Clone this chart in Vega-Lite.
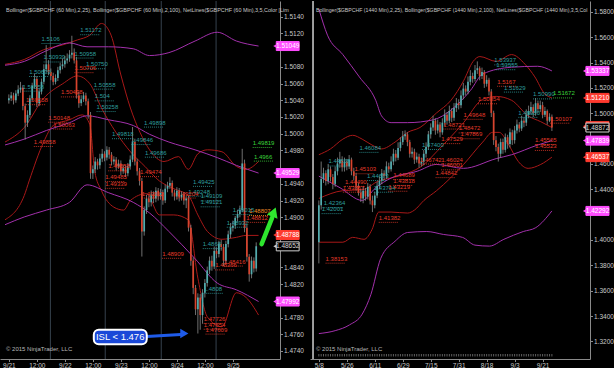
{
"$schema":"https://vega.github.io/schema/vega-lite/v6.json",
"background":"#000000",
"padding":0,
"spacing":30,
"bounds":"flush",
"config":{"view":{"stroke":null},"axis":{"labelFont":"Liberation Sans","labelFontSize":6.5,"labelColor":"#c8c8c8","domainColor":"#8a8a8a","tickColor":"#8a8a8a","tickSize":2.5,"grid":false,"labelPadding":1,"labelFlush":false}},
"datasets":{
"g1":[{"i":17.8},{"i":41.3},{"i":65.3},{"i":88.8}],
"tx1":[{"t":"Bollinger($GBPCHF (60 Min),2,25), Bollinger($GBPCHF (60 Min),2,100), NetLines($GBPCHF (60 Min),3,5,Color [Lim","w":"top"},{"t":"© 2015 NinjaTrader, LLC","w":"bot"}],
"tx2":[{"t":"Bollinger($GBPCHF (1440 Min),2,25), Bollinger($GBPCHF (1440 Min),2,100), NetLines($GBPCHF (1440 Min),3,5,Col","w":"top"},{"t":"© 2015 NinjaTrader, LLC","w":"bot"}],
"h1":[
{"i":0,"o":1.50400,"h":1.50470,"l":1.50360,"c":1.50423},
{"i":1,"o":1.50423,"h":1.50500,"l":1.50390,"c":1.50458},
{"i":2,"o":1.50458,"h":1.50490,"l":1.50350,"c":1.50400},
{"i":3,"o":1.50400,"h":1.50520,"l":1.50370,"c":1.50481},
{"i":4,"o":1.50481,"h":1.50580,"l":1.50450,"c":1.50528},
{"i":5,"o":1.50528,"h":1.50620,"l":1.50490,"c":1.50551},
{"i":6,"o":1.50551,"h":1.50580,"l":1.50280,"c":1.50330},
{"i":7,"o":1.50330,"h":1.50360,"l":1.49930,"c":1.50132},
{"i":8,"o":1.50132,"h":1.50280,"l":1.50080,"c":1.50225},
{"i":9,"o":1.50225,"h":1.50460,"l":1.50190,"c":1.50423},
{"i":10,"o":1.50423,"h":1.50610,"l":1.50390,"c":1.50574},
{"i":11,"o":1.50574,"h":1.50720,"l":1.50540,"c":1.50656},
{"i":12,"o":1.50656,"h":1.50690,"l":1.50320,"c":1.50365},
{"i":13,"o":1.50365,"h":1.50540,"l":1.50330,"c":1.50505},
{"i":14,"o":1.50505,"h":1.50660,"l":1.50470,"c":1.50621},
{"i":15,"o":1.50621,"h":1.50830,"l":1.50590,"c":1.50772},
{"i":16,"o":1.50772,"h":1.51060,"l":1.50740,"c":1.50830},
{"i":17,"o":1.50830,"h":1.50880,"l":1.50700,"c":1.50737},
{"i":18,"o":1.50737,"h":1.50780,"l":1.50640,"c":1.50691},
{"i":19,"o":1.50691,"h":1.50730,"l":1.50580,"c":1.50621},
{"i":20,"o":1.50621,"h":1.50710,"l":1.50590,"c":1.50667},
{"i":21,"o":1.50667,"h":1.50800,"l":1.50630,"c":1.50760},
{"i":22,"o":1.50760,"h":1.50850,"l":1.50720,"c":1.50807},
{"i":23,"o":1.50807,"h":1.50900,"l":1.50770,"c":1.50830},
{"i":24,"o":1.50830,"h":1.50930,"l":1.50790,"c":1.50877},
{"i":25,"o":1.50877,"h":1.50960,"l":1.50840,"c":1.50900},
{"i":26,"o":1.50900,"h":1.51000,"l":1.50860,"c":1.50946},
{"i":27,"o":1.50946,"h":1.51172,"l":1.50900,"c":1.50970},
{"i":28,"o":1.50970,"h":1.51020,"l":1.50840,"c":1.50877},
{"i":29,"o":1.50877,"h":1.50920,"l":1.50420,"c":1.50458},
{"i":30,"o":1.50458,"h":1.50500,"l":1.50310,"c":1.50365},
{"i":31,"o":1.50365,"h":1.50460,"l":1.50330,"c":1.50412},
{"i":32,"o":1.50412,"h":1.50500,"l":1.50380,"c":1.50458},
{"i":33,"o":1.50458,"h":1.50490,"l":1.50340,"c":1.50388},
{"i":34,"o":1.50388,"h":1.50420,"l":1.50180,"c":1.50225},
{"i":35,"o":1.50225,"h":1.50260,"l":1.49460,"c":1.49528},
{"i":36,"o":1.49528,"h":1.49620,"l":1.49458,"c":1.49574},
{"i":37,"o":1.49574,"h":1.49720,"l":1.49530,"c":1.49667},
{"i":38,"o":1.49667,"h":1.49700,"l":1.49570,"c":1.49621},
{"i":39,"o":1.49621,"h":1.49760,"l":1.49580,"c":1.49702},
{"i":40,"o":1.49702,"h":1.49818,"l":1.49660,"c":1.49760},
{"i":41,"o":1.49760,"h":1.49790,"l":1.49670,"c":1.49714},
{"i":42,"o":1.49714,"h":1.49850,"l":1.49680,"c":1.49807},
{"i":43,"o":1.49807,"h":1.49840,"l":1.49700,"c":1.49749},
{"i":44,"o":1.49749,"h":1.49780,"l":1.49620,"c":1.49667},
{"i":45,"o":1.49667,"h":1.49730,"l":1.49630,"c":1.49690},
{"i":46,"o":1.49690,"h":1.49720,"l":1.49558,"c":1.49609},
{"i":47,"o":1.49609,"h":1.49690,"l":1.49580,"c":1.49644},
{"i":48,"o":1.49644,"h":1.49680,"l":1.49500,"c":1.49551},
{"i":49,"o":1.49551,"h":1.49630,"l":1.49520,"c":1.49586},
{"i":50,"o":1.49586,"h":1.49620,"l":1.49480,"c":1.49528},
{"i":51,"o":1.49528,"h":1.49650,"l":1.49490,"c":1.49609},
{"i":52,"o":1.49609,"h":1.49740,"l":1.49570,"c":1.49690},
{"i":53,"o":1.49690,"h":1.50080,"l":1.49660,"c":1.49900},
{"i":54,"o":1.49900,"h":1.49940,"l":1.49620,"c":1.49667},
{"i":55,"o":1.49667,"h":1.49700,"l":1.49500,"c":1.49551},
{"i":56,"o":1.49551,"h":1.49590,"l":1.49380,"c":1.49435},
{"i":57,"o":1.49435,"h":1.49470,"l":1.48530,"c":1.48830},
{"i":58,"o":1.48830,"h":1.49130,"l":1.48780,"c":1.49086},
{"i":59,"o":1.49086,"h":1.49270,"l":1.49040,"c":1.49225},
{"i":60,"o":1.49225,"h":1.49260,"l":1.49120,"c":1.49179},
{"i":61,"o":1.49179,"h":1.49320,"l":1.49130,"c":1.49272},
{"i":62,"o":1.49272,"h":1.49310,"l":1.49170,"c":1.49225},
{"i":63,"o":1.49225,"h":1.49360,"l":1.49180,"c":1.49318},
{"i":64,"o":1.49318,"h":1.49350,"l":1.49200,"c":1.49249},
{"i":65,"o":1.49249,"h":1.49340,"l":1.49210,"c":1.49295},
{"i":66,"o":1.49295,"h":1.49330,"l":1.49150,"c":1.49202},
{"i":67,"o":1.49202,"h":1.49390,"l":1.49170,"c":1.49342},
{"i":68,"o":1.49342,"h":1.49425,"l":1.49300,"c":1.49376},
{"i":69,"o":1.49376,"h":1.49480,"l":1.49340,"c":1.49411},
{"i":70,"o":1.49411,"h":1.49440,"l":1.49248,"c":1.49295},
{"i":71,"o":1.49295,"h":1.49330,"l":1.49200,"c":1.49249},
{"i":72,"o":1.49249,"h":1.49360,"l":1.49210,"c":1.49318},
{"i":73,"o":1.49318,"h":1.49350,"l":1.49190,"c":1.49237},
{"i":74,"o":1.49237,"h":1.49310,"l":1.49200,"c":1.49272},
{"i":75,"o":1.49272,"h":1.49300,"l":1.49150,"c":1.49202},
{"i":76,"o":1.49202,"h":1.49260,"l":1.49109,"c":1.49225},
{"i":77,"o":1.49225,"h":1.49260,"l":1.48830,"c":1.48876},
{"i":78,"o":1.48876,"h":1.48910,"l":1.48420,"c":1.48481},
{"i":79,"o":1.48481,"h":1.48520,"l":1.48080,"c":1.48155},
{"i":80,"o":1.48155,"h":1.48190,"l":1.47830,"c":1.47899},
{"i":81,"o":1.47899,"h":1.48090,"l":1.47609,"c":1.48039},
{"i":82,"o":1.48039,"h":1.48080,"l":1.47654,"c":1.47830},
{"i":83,"o":1.47830,"h":1.48140,"l":1.47726,"c":1.48097},
{"i":84,"o":1.48097,"h":1.48260,"l":1.48040,"c":1.48213},
{"i":85,"o":1.48213,"h":1.48410,"l":1.48170,"c":1.48365},
{"i":86,"o":1.48365,"h":1.48530,"l":1.48320,"c":1.48481},
{"i":87,"o":1.48481,"h":1.48540,"l":1.48360,"c":1.48411},
{"i":88,"o":1.48411,"h":1.48650,"l":1.48380,"c":1.48597},
{"i":89,"o":1.48597,"h":1.48640,"l":1.48510,"c":1.48562},
{"i":90,"o":1.48562,"h":1.48720,"l":1.48520,"c":1.48679},
{"i":91,"o":1.48679,"h":1.48730,"l":1.48600,"c":1.48644},
{"i":92,"o":1.48644,"h":1.48680,"l":1.48416,"c":1.48481},
{"i":93,"o":1.48481,"h":1.48720,"l":1.48440,"c":1.48679},
{"i":94,"o":1.48679,"h":1.48840,"l":1.48640,"c":1.48795},
{"i":95,"o":1.48795,"h":1.48932,"l":1.48750,"c":1.48876},
{"i":96,"o":1.48876,"h":1.48960,"l":1.48830,"c":1.48900},
{"i":97,"o":1.48900,"h":1.49015,"l":1.48860,"c":1.48993},
{"i":98,"o":1.48993,"h":1.49090,"l":1.48950,"c":1.49039},
{"i":99,"o":1.49039,"h":1.49140,"l":1.49000,"c":1.49086},
{"i":100,"o":1.49086,"h":1.49819,"l":1.49060,"c":1.49644},
{"i":101,"o":1.49644,"h":1.49690,"l":1.48820,"c":1.48876},
{"i":102,"o":1.48876,"h":1.48910,"l":1.48470,"c":1.48527},
{"i":103,"o":1.48527,"h":1.48560,"l":1.48230,"c":1.48318},
{"i":104,"o":1.48318,"h":1.48530,"l":1.48270,"c":1.48481},
{"i":105,"o":1.48481,"h":1.48520,"l":1.48340,"c":1.48388},
{"i":106,"o":1.48388,"h":1.48700,"l":1.48350,"c":1.48652}
],
"d1":[
{"i":0,"o":1.39824,"h":1.43122,"l":1.38153,"c":1.42739},
{"i":1,"o":1.42739,"h":1.46190,"l":1.42400,"c":1.44809},
{"i":2,"o":1.44809,"h":1.45700,"l":1.44500,"c":1.45269},
{"i":3,"o":1.45269,"h":1.45500,"l":1.44300,"c":1.44656},
{"i":4,"o":1.44656,"h":1.46000,"l":1.44400,"c":1.45576},
{"i":5,"o":1.45576,"h":1.45800,"l":1.44600,"c":1.44963},
{"i":6,"o":1.44963,"h":1.45200,"l":1.44000,"c":1.44426},
{"i":7,"o":1.44426,"h":1.45800,"l":1.44200,"c":1.45423},
{"i":8,"o":1.45423,"h":1.46500,"l":1.45100,"c":1.46036},
{"i":9,"o":1.46036,"h":1.46956,"l":1.45700,"c":1.46343},
{"i":10,"o":1.46343,"h":1.46600,"l":1.45400,"c":1.45729},
{"i":11,"o":1.45729,"h":1.46500,"l":1.45400,"c":1.46190},
{"i":12,"o":1.46190,"h":1.46400,"l":1.45500,"c":1.45806},
{"i":13,"o":1.45806,"h":1.46700,"l":1.45600,"c":1.46343},
{"i":14,"o":1.46343,"h":1.46500,"l":1.45103,"c":1.45423},
{"i":15,"o":1.45423,"h":1.45700,"l":1.44700,"c":1.45039},
{"i":16,"o":1.45039,"h":1.45300,"l":1.43900,"c":1.44272},
{"i":17,"o":1.44272,"h":1.44500,"l":1.43500,"c":1.43736},
{"i":18,"o":1.43736,"h":1.44000,"l":1.43000,"c":1.43275},
{"i":19,"o":1.43275,"h":1.44200,"l":1.42900,"c":1.43889},
{"i":20,"o":1.43889,"h":1.44100,"l":1.43100,"c":1.43429},
{"i":21,"o":1.43429,"h":1.44500,"l":1.43200,"c":1.44196},
{"i":22,"o":1.44196,"h":1.44400,"l":1.42800,"c":1.43122},
{"i":23,"o":1.43122,"h":1.43500,"l":1.42202,"c":1.42739},
{"i":24,"o":1.42739,"h":1.43800,"l":1.42500,"c":1.43505},
{"i":25,"o":1.43505,"h":1.44600,"l":1.43300,"c":1.44272},
{"i":26,"o":1.44272,"h":1.45000,"l":1.44000,"c":1.44656},
{"i":27,"o":1.44656,"h":1.45600,"l":1.44400,"c":1.45269},
{"i":28,"o":1.45269,"h":1.45500,"l":1.44700,"c":1.45039},
{"i":29,"o":1.45039,"h":1.46200,"l":1.44800,"c":1.45806},
{"i":30,"o":1.45806,"h":1.46100,"l":1.45300,"c":1.45576},
{"i":31,"o":1.45576,"h":1.46600,"l":1.45400,"c":1.46190},
{"i":32,"o":1.46190,"h":1.47200,"l":1.45900,"c":1.46803},
{"i":33,"o":1.46803,"h":1.47100,"l":1.46200,"c":1.46496},
{"i":34,"o":1.46496,"h":1.47700,"l":1.46300,"c":1.47263},
{"i":35,"o":1.47263,"h":1.48100,"l":1.47000,"c":1.47723},
{"i":36,"o":1.47723,"h":1.48600,"l":1.47500,"c":1.48184},
{"i":37,"o":1.48184,"h":1.48644,"l":1.47900,"c":1.48337},
{"i":38,"o":1.48337,"h":1.48500,"l":1.47400,"c":1.47723},
{"i":39,"o":1.47723,"h":1.47900,"l":1.46500,"c":1.46803},
{"i":40,"o":1.46803,"h":1.47300,"l":1.46500,"c":1.46956},
{"i":41,"o":1.46956,"h":1.47200,"l":1.46000,"c":1.46343},
{"i":42,"o":1.46343,"h":1.46900,"l":1.46100,"c":1.46573},
{"i":43,"o":1.46573,"h":1.46800,"l":1.45700,"c":1.46036},
{"i":44,"o":1.46036,"h":1.46500,"l":1.45800,"c":1.46190},
{"i":45,"o":1.46190,"h":1.47100,"l":1.45900,"c":1.46803},
{"i":46,"o":1.46803,"h":1.47700,"l":1.46500,"c":1.47340},
{"i":47,"o":1.47340,"h":1.48600,"l":1.47100,"c":1.48337},
{"i":48,"o":1.48337,"h":1.49200,"l":1.48000,"c":1.48874},
{"i":49,"o":1.48874,"h":1.49800,"l":1.48600,"c":1.49411},
{"i":50,"o":1.49411,"h":1.49600,"l":1.48300,"c":1.48644},
{"i":51,"o":1.48644,"h":1.49500,"l":1.48400,"c":1.49104},
{"i":52,"o":1.49104,"h":1.49300,"l":1.48100,"c":1.48490},
{"i":53,"o":1.48490,"h":1.49600,"l":1.48300,"c":1.49257},
{"i":54,"o":1.49257,"h":1.50300,"l":1.49000,"c":1.49871},
{"i":55,"o":1.49871,"h":1.50100,"l":1.49100,"c":1.49411},
{"i":56,"o":1.49411,"h":1.50600,"l":1.49200,"c":1.50177},
{"i":57,"o":1.50177,"h":1.50400,"l":1.49300,"c":1.49641},
{"i":58,"o":1.49641,"h":1.50800,"l":1.49400,"c":1.50408},
{"i":59,"o":1.50408,"h":1.51200,"l":1.50100,"c":1.50791},
{"i":60,"o":1.50791,"h":1.51100,"l":1.50300,"c":1.50638},
{"i":61,"o":1.50638,"h":1.51800,"l":1.50400,"c":1.51405},
{"i":62,"o":1.51405,"h":1.52400,"l":1.51100,"c":1.51941},
{"i":63,"o":1.51941,"h":1.52200,"l":1.51400,"c":1.51711},
{"i":64,"o":1.51711,"h":1.52900,"l":1.51500,"c":1.52478},
{"i":65,"o":1.52478,"h":1.53400,"l":1.52200,"c":1.52938},
{"i":66,"o":1.52938,"h":1.53200,"l":1.52400,"c":1.52708},
{"i":67,"o":1.52708,"h":1.53800,"l":1.52500,"c":1.53398},
{"i":68,"o":1.53398,"h":1.54089,"l":1.53100,"c":1.53552},
{"i":69,"o":1.53552,"h":1.53700,"l":1.52600,"c":1.52938},
{"i":70,"o":1.52938,"h":1.53600,"l":1.52700,"c":1.53245},
{"i":71,"o":1.53245,"h":1.53400,"l":1.52000,"c":1.52325},
{"i":72,"o":1.52325,"h":1.53000,"l":1.52100,"c":1.52632},
{"i":73,"o":1.52632,"h":1.52800,"l":1.51400,"c":1.51711},
{"i":74,"o":1.51711,"h":1.51900,"l":1.49700,"c":1.50024},
{"i":75,"o":1.50024,"h":1.50200,"l":1.47500,"c":1.47877},
{"i":76,"o":1.47877,"h":1.48200,"l":1.47000,"c":1.47340},
{"i":77,"o":1.47340,"h":1.47600,"l":1.46190,"c":1.46803},
{"i":78,"o":1.46803,"h":1.48000,"l":1.46500,"c":1.47723},
{"i":79,"o":1.47723,"h":1.48000,"l":1.46800,"c":1.47110},
{"i":80,"o":1.47110,"h":1.48400,"l":1.46900,"c":1.48107},
{"i":81,"o":1.48107,"h":1.48300,"l":1.47200,"c":1.47570},
{"i":82,"o":1.47570,"h":1.48800,"l":1.47300,"c":1.48490},
{"i":83,"o":1.48490,"h":1.48700,"l":1.47500,"c":1.47877},
{"i":84,"o":1.47877,"h":1.49000,"l":1.47600,"c":1.48644},
{"i":85,"o":1.48644,"h":1.49500,"l":1.48400,"c":1.49104},
{"i":86,"o":1.49104,"h":1.49300,"l":1.48500,"c":1.48797},
{"i":87,"o":1.48797,"h":1.49800,"l":1.48600,"c":1.49411},
{"i":88,"o":1.49411,"h":1.49700,"l":1.48900,"c":1.49257},
{"i":89,"o":1.49257,"h":1.50300,"l":1.49000,"c":1.49871},
{"i":90,"o":1.49871,"h":1.50600,"l":1.49600,"c":1.50177},
{"i":91,"o":1.50177,"h":1.50900,"l":1.49900,"c":1.50484},
{"i":92,"o":1.50484,"h":1.50700,"l":1.49700,"c":1.50024},
{"i":93,"o":1.50024,"h":1.51200,"l":1.49800,"c":1.50791},
{"i":94,"o":1.50791,"h":1.51000,"l":1.50000,"c":1.50331},
{"i":95,"o":1.50331,"h":1.51000,"l":1.50100,"c":1.50638},
{"i":96,"o":1.50638,"h":1.50900,"l":1.49600,"c":1.49871},
{"i":97,"o":1.49871,"h":1.50500,"l":1.49700,"c":1.50177},
{"i":98,"o":1.50177,"h":1.50300,"l":1.49100,"c":1.49411},
{"i":99,"o":1.49411,"h":1.50000,"l":1.49300,"c":1.49717},
{"i":100,"o":1.49717,"h":1.49900,"l":1.48600,"c":1.48872}
],
"b1":[
{"s":"ru","g":"r","i":-1.65,"v":1.50830},{"s":"ru","g":"r","i":6.6,"v":1.50888},{"s":"ru","g":"r","i":14.9,"v":1.51005},{"s":"ru","g":"r","i":23.1,"v":1.51063},{"s":"ru","g":"r","i":29.3,"v":1.51121},{"s":"ru","g":"r","i":34.7,"v":1.51179},{"s":"ru","g":"r","i":39.7,"v":1.51319},{"s":"ru","g":"r","i":43.8,"v":1.51179},{"s":"ru","g":"r","i":47.9,"v":1.50714},{"s":"ru","g":"r","i":52.1,"v":1.50307},{"s":"ru","g":"r","i":56.2,"v":1.50016},{"s":"ru","g":"r","i":60.3,"v":1.49807},{"s":"ru","g":"r","i":66.5,"v":1.49667},{"s":"ru","g":"r","i":72.7,"v":1.49726},{"s":"ru","g":"r","i":76.9,"v":1.49574},{"s":"ru","g":"r","i":81,"v":1.49760},{"s":"ru","g":"r","i":85.1,"v":1.49807},{"s":"ru","g":"r","i":91.3,"v":1.49784},{"s":"ru","g":"r","i":97.5,"v":1.49609},{"s":"ru","g":"r","i":101.7,"v":1.49574},{"s":"ru","g":"r","i":107,"v":1.49667},
{"s":"rm","g":"r","i":-1.65,"v":1.49900},{"s":"rm","g":"r","i":6.6,"v":1.50074},{"s":"rm","g":"r","i":14.9,"v":1.50423},{"s":"rm","g":"r","i":23.1,"v":1.50598},{"s":"rm","g":"r","i":29.3,"v":1.50691},{"s":"rm","g":"r","i":34.7,"v":1.50598},{"s":"rm","g":"r","i":39.7,"v":1.50307},{"s":"rm","g":"r","i":45.9,"v":1.50016},{"s":"rm","g":"r","i":52.1,"v":1.49784},{"s":"rm","g":"r","i":58.3,"v":1.49609},{"s":"rm","g":"r","i":64.5,"v":1.49435},{"s":"rm","g":"r","i":70.7,"v":1.49342},{"s":"rm","g":"r","i":76.9,"v":1.49260},{"s":"rm","g":"r","i":81,"v":1.49028},{"s":"rm","g":"r","i":85.1,"v":1.48830},{"s":"rm","g":"r","i":91.3,"v":1.48737},{"s":"rm","g":"r","i":97.5,"v":1.48760},{"s":"rm","g":"r","i":101.7,"v":1.48783},{"s":"rm","g":"r","i":107,"v":1.48783},
{"s":"rl","g":"r","i":-1.65,"v":1.48970},{"s":"rl","g":"r","i":6.6,"v":1.49260},{"s":"rl","g":"r","i":8.7,"v":1.49435},{"s":"rl","g":"r","i":14.9,"v":1.49900},{"s":"rl","g":"r","i":19,"v":1.50098},{"s":"rl","g":"r","i":26,"v":1.50167},{"s":"rl","g":"r","i":31.4,"v":1.50225},{"s":"rl","g":"r","i":34.7,"v":1.50109},{"s":"rl","g":"r","i":36.8,"v":1.49551},{"s":"rl","g":"r","i":39.7,"v":1.49318},{"s":"rl","g":"r","i":45,"v":1.49121},{"s":"rl","g":"r","i":49.2,"v":1.49086},{"s":"rl","g":"r","i":52.1,"v":1.49202},{"s":"rl","g":"r","i":59.1,"v":1.49283},{"s":"rl","g":"r","i":64.5,"v":1.49028},{"s":"rl","g":"r","i":70.7,"v":1.49028},{"s":"rl","g":"r","i":76.9,"v":1.48969},{"s":"rl","g":"r","i":81,"v":1.48272},{"s":"rl","g":"r","i":85.1,"v":1.47806},{"s":"rl","g":"r","i":91.3,"v":1.47690},{"s":"rl","g":"r","i":97.5,"v":1.48097},{"s":"rl","g":"r","i":101.7,"v":1.48039},{"s":"rl","g":"r","i":107,"v":1.47830},
{"s":"mu","g":"m","i":-1.65,"v":1.50819},{"s":"mu","g":"m","i":6.6,"v":1.50865},{"s":"mu","g":"m","i":16.1,"v":1.50993},{"s":"mu","g":"m","i":26,"v":1.51086},{"s":"mu","g":"m","i":33.5,"v":1.51040},{"s":"mu","g":"m","i":42.6,"v":1.51040},{"s":"mu","g":"m","i":53.3,"v":1.51016},{"s":"mu","g":"m","i":60.3,"v":1.50935},{"s":"mu","g":"m","i":68.6,"v":1.50970},{"s":"mu","g":"m","i":79.8,"v":1.51109},{"s":"mu","g":"m","i":89.3,"v":1.51214},{"s":"mu","g":"m","i":97.5,"v":1.51109},{"s":"mu","g":"m","i":107,"v":1.51049},
{"s":"mm","g":"m","i":-1.65,"v":1.49865},{"s":"mm","g":"m","i":6.6,"v":1.49935},{"s":"mm","g":"m","i":16.1,"v":1.50039},{"s":"mm","g":"m","i":26,"v":1.50132},{"s":"mm","g":"m","i":33.5,"v":1.50214},{"s":"mm","g":"m","i":42.6,"v":1.50167},{"s":"mm","g":"m","i":53.3,"v":1.50098},{"s":"mm","g":"m","i":60.3,"v":1.49993},{"s":"mm","g":"m","i":68.6,"v":1.49900},{"s":"mm","g":"m","i":79.8,"v":1.49807},{"s":"mm","g":"m","i":89.3,"v":1.49714},{"s":"mm","g":"m","i":97.5,"v":1.49621},{"s":"mm","g":"m","i":107,"v":1.49529},
{"s":"ml","g":"m","i":-1.65,"v":1.48911},{"s":"ml","g":"m","i":6.6,"v":1.49004},{"s":"ml","g":"m","i":16.1,"v":1.49086},{"s":"ml","g":"m","i":26,"v":1.49179},{"s":"ml","g":"m","i":33.5,"v":1.49388},{"s":"ml","g":"m","i":42.6,"v":1.49295},{"s":"ml","g":"m","i":53.3,"v":1.49179},{"s":"ml","g":"m","i":60.3,"v":1.49051},{"s":"ml","g":"m","i":68.6,"v":1.48830},{"s":"ml","g":"m","i":79.8,"v":1.48504},{"s":"ml","g":"m","i":89.3,"v":1.48213},{"s":"ml","g":"m","i":97.5,"v":1.48132},{"s":"ml","g":"m","i":107,"v":1.47992}
],
"b2":[
{"s":"ru","g":"r","i":0,"v":1.46726},{"s":"ru","g":"r","i":5,"v":1.47186},{"s":"ru","g":"r","i":10.3,"v":1.47954},{"s":"ru","g":"r","i":14.5,"v":1.48260},{"s":"ru","g":"r","i":18.6,"v":1.47954},{"s":"ru","g":"r","i":22.8,"v":1.47493},{"s":"ru","g":"r","i":26.9,"v":1.47186},{"s":"ru","g":"r","i":32.7,"v":1.47723},{"s":"ru","g":"r","i":38.1,"v":1.48490},{"s":"ru","g":"r","i":43.4,"v":1.48874},{"s":"ru","g":"r","i":50.5,"v":1.50024},{"s":"ru","g":"r","i":56.7,"v":1.51021},{"s":"ru","g":"r","i":62.1,"v":1.52555},{"s":"ru","g":"r","i":66.2,"v":1.54089},{"s":"ru","g":"r","i":69.1,"v":1.54472},{"s":"ru","g":"r","i":76.1,"v":1.54089},{"s":"ru","g":"r","i":82.7,"v":1.54626},{"s":"ru","g":"r","i":88.5,"v":1.53859},{"s":"ru","g":"r","i":92.7,"v":1.52862},{"s":"ru","g":"r","i":96.8,"v":1.51558},{"s":"ru","g":"r","i":100,"v":1.51210},
{"s":"rm","g":"r","i":0,"v":1.43275},{"s":"rm","g":"r","i":10.3,"v":1.43889},{"s":"rm","g":"r","i":18.6,"v":1.43965},{"s":"rm","g":"r","i":25.7,"v":1.44656},{"s":"rm","g":"r","i":32.7,"v":1.44963},{"s":"rm","g":"r","i":38.1,"v":1.45269},{"s":"rm","g":"r","i":45.1,"v":1.45960},{"s":"rm","g":"r","i":50.5,"v":1.46956},{"s":"rm","g":"r","i":62.1,"v":1.49257},{"s":"rm","g":"r","i":70.3,"v":1.51098},{"s":"rm","g":"r","i":76.1,"v":1.51328},{"s":"rm","g":"r","i":82.7,"v":1.51021},{"s":"rm","g":"r","i":89.8,"v":1.49794},{"s":"rm","g":"r","i":95.2,"v":1.49334},{"s":"rm","g":"r","i":100,"v":1.48872},
{"s":"rl","g":"r","i":0,"v":1.39824},{"s":"rl","g":"r","i":10.3,"v":1.39824},{"s":"rl","g":"r","i":14.5,"v":1.40208},{"s":"rl","g":"r","i":19.4,"v":1.40054},{"s":"rl","g":"r","i":22.8,"v":1.40821},{"s":"rl","g":"r","i":25.7,"v":1.42202},{"s":"rl","g":"r","i":31,"v":1.42202},{"s":"rl","g":"r","i":38.1,"v":1.42125},{"s":"rl","g":"r","i":41,"v":1.42355},{"s":"rl","g":"r","i":45.1,"v":1.43122},{"s":"rl","g":"r","i":50.5,"v":1.43889},{"s":"rl","g":"r","i":62.1,"v":1.45960},{"s":"rl","g":"r","i":70.3,"v":1.47723},{"s":"rl","g":"r","i":74.5,"v":1.48490},{"s":"rl","g":"r","i":77.4,"v":1.48490},{"s":"rl","g":"r","i":81.5,"v":1.47493},{"s":"rl","g":"r","i":85.6,"v":1.46190},{"s":"rl","g":"r","i":89.8,"v":1.45653},{"s":"rl","g":"r","i":95.2,"v":1.45960},{"s":"rl","g":"r","i":100,"v":1.46537},
{"s":"mu","g":"m","i":0,"v":1.58230},{"s":"mu","g":"m","i":3.7,"v":1.56159},{"s":"mu","g":"m","i":10.3,"v":1.54626},{"s":"mu","g":"m","i":17.4,"v":1.52862},{"s":"mu","g":"m","i":24.4,"v":1.51021},{"s":"mu","g":"m","i":26.9,"v":1.49794},{"s":"mu","g":"m","i":31,"v":1.49257},{"s":"mu","g":"m","i":38.1,"v":1.49257},{"s":"mu","g":"m","i":49.2,"v":1.49487},{"s":"mu","g":"m","i":56.7,"v":1.50254},{"s":"mu","g":"m","i":65,"v":1.51788},{"s":"mu","g":"m","i":70.3,"v":1.53092},{"s":"mu","g":"m","i":82.7,"v":1.53629},{"s":"mu","g":"m","i":93.9,"v":1.53705},{"s":"mu","g":"m","i":100,"v":1.53337},
{"s":"mm","g":"m","i":0,"v":1.45039},{"s":"mm","g":"m","i":9.1,"v":1.44119},{"s":"mm","g":"m","i":18.6,"v":1.43122},{"s":"mm","g":"m","i":24.4,"v":1.44119},{"s":"mm","g":"m","i":31,"v":1.44886},{"s":"mm","g":"m","i":42.2,"v":1.45423},{"s":"mm","g":"m","i":50.5,"v":1.45960},{"s":"mm","g":"m","i":62.1,"v":1.45653},{"s":"mm","g":"m","i":76.1,"v":1.46420},{"s":"mm","g":"m","i":82.7,"v":1.46726},{"s":"mm","g":"m","i":93.9,"v":1.47493},{"s":"mm","g":"m","i":100,"v":1.47839},
{"s":"ml","g":"m","i":0,"v":1.32616},{"s":"ml","g":"m","i":7,"v":1.32846},{"s":"ml","g":"m","i":13.2,"v":1.33306},{"s":"ml","g":"m","i":18.6,"v":1.34150},{"s":"ml","g":"m","i":22.3,"v":1.35683},{"s":"ml","g":"m","i":26.5,"v":1.38521},{"s":"ml","g":"m","i":32.7,"v":1.39901},{"s":"ml","g":"m","i":38.1,"v":1.40591},{"s":"ml","g":"m","i":46.3,"v":1.40667},{"s":"ml","g":"m","i":53.4,"v":1.40438},{"s":"ml","g":"m","i":61.6,"v":1.40208},{"s":"ml","g":"m","i":67,"v":1.39594},{"s":"ml","g":"m","i":73.2,"v":1.39517},{"s":"ml","g":"m","i":79.4,"v":1.40054},{"s":"ml","g":"m","i":87.7,"v":1.40667},{"s":"ml","g":"m","i":93.1,"v":1.40975},{"s":"ml","g":"m","i":100,"v":1.42292}
],
"l1":[
{"t":"1.5106","i":14.0,"p":1.51109,"k":"t"},{"t":"1.51172","i":30.6,"p":1.51214,"k":"t"},{"t":"1.50939","i":14.9,"p":1.50888,"k":"t"},{"t":"1.50958","i":28.1,"p":1.50935,"k":"t"},{"t":"1.50639","i":8.7,"p":1.50714,"k":"t"},{"t":"1.50706","i":28.1,"p":1.50760,"k":"r"},{"t":"1.50750","i":33.1,"p":1.50807,"k":"t"},{"t":"1.50858","i":5.8,"p":1.50539,"k":"t"},{"t":"1.50558","i":7.4,"p":1.50377,"k":"r"},{"t":"1.50438","i":22.3,"p":1.50470,"k":"r"},{"t":"1.50558","i":36.4,"p":1.50563,"k":"t"},{"t":"1.504","i":36.8,"p":1.50423,"k":"t"},{"t":"1.50258","i":37.6,"p":1.50295,"k":"t"},{"t":"1.50148","i":16.9,"p":1.50167,"k":"r"},{"t":"1.50063","i":19.0,"p":1.50086,"k":"r"},{"t":"1.49858","i":10.7,"p":1.49877,"k":"r"},{"t":"1.49818","i":44.2,"p":1.49970,"k":"t"},{"t":"1.49898","i":57.9,"p":1.50109,"k":"t"},{"t":"1.49846","i":52.5,"p":1.49900,"k":"t"},{"t":"1.49686","i":58.3,"p":1.49749,"k":"t"},{"t":"1.49558","i":42.6,"p":1.49586,"k":"r"},{"t":"1.49485","i":41.3,"p":1.49458,"k":"r"},{"t":"1.49339","i":41.3,"p":1.49376,"k":"r"},{"t":"1.49474","i":56.2,"p":1.49516,"k":"r"},{"t":"1.49812","i":57.0,"p":1.49260,"k":"r"},{"t":"1.49425","i":78.9,"p":1.49400,"k":"t"},{"t":"1.49248","i":76.9,"p":1.49283,"k":"t"},{"t":"1.49204","i":71.9,"p":1.49260,"k":"r"},{"t":"1.49109","i":82.2,"p":1.49225,"k":"t"},{"t":"1.49121","i":82.2,"p":1.49155,"k":"t"},{"t":"1.48932","i":93.4,"p":1.48911,"k":"t"},{"t":"1.49015","i":95.9,"p":1.49062,"k":"t"},{"t":"1.48807","i":102.9,"p":1.49051,"k":"o"},{"t":"1.48812","i":101.7,"p":1.48969,"k":"r"},{"t":"1.4868","i":83.1,"p":1.48655,"k":"t"},{"t":"1.48416","i":92.1,"p":1.48446,"k":"r"},{"t":"1.48366","i":88.4,"p":1.48400,"k":"r"},{"t":"1.48909","i":65.7,"p":1.48539,"k":"r"},{"t":"1.4808","i":83.5,"p":1.48120,"k":"t"},{"t":"1.47726","i":83.5,"p":1.47760,"k":"r"},{"t":"1.47654","i":83.5,"p":1.47690,"k":"r"},{"t":"1.47609","i":84.3,"p":1.47632,"k":"r"},{"t":"1.49819","i":104.5,"p":1.49865,"k":"g"},{"t":"1.4966","i":105,"p":1.49702,"k":"g"}
],
"l2":[
{"t":"1.42364","i":2.1,"p":1.42739,"k":"t"},{"t":"1.42001","i":1.2,"p":1.42278,"k":"t"},{"t":"1.38153","i":2.9,"p":1.38367,"k":"r"},{"t":"1.41382","i":25.7,"p":1.41588,"k":"r"},{"t":"1.44858","i":4.1,"p":1.46036,"k":"t"},{"t":"1.45103","i":15.3,"p":1.45423,"k":"r"},{"t":"1.46084","i":17.4,"p":1.47110,"k":"t"},{"t":"1.44490","i":11.2,"p":1.44426,"k":"r"},{"t":"1.43857","i":10.3,"p":1.43966,"k":"r"},{"t":"1.44673","i":20.7,"p":1.44886,"k":"t"},{"t":"1.43704","i":23.6,"p":1.43966,"k":"t"},{"t":"1.44689","i":31.9,"p":1.44963,"k":"r"},{"t":"1.43818","i":31.9,"p":1.44503,"k":"r"},{"t":"1.43219","i":29.8,"p":1.44043,"k":"r"},{"t":"1.46742","i":43.4,"p":1.46190,"k":"r"},{"t":"1.47400","i":44.3,"p":1.47340,"k":"t"},{"t":"1.47529","i":52.5,"p":1.47800,"k":"r"},{"t":"1.48721","i":53.4,"p":1.48950,"k":"r"},{"t":"1.48472","i":60.0,"p":1.48644,"k":"r"},{"t":"1.47869","i":60.8,"p":1.48184,"k":"r"},{"t":"1.49648","i":62.1,"p":1.49717,"k":"r"},{"t":"1.50854","i":68.3,"p":1.50944,"k":"r"},{"t":"1.5167","i":76.5,"p":1.52325,"k":"r"},{"t":"1.51629","i":79.4,"p":1.51865,"k":"t"},{"t":"1.53937","i":75.3,"p":1.54012,"k":"t"},{"t":"1.53555","i":76.1,"p":1.53629,"k":"t"},{"t":"1.46024","i":52.5,"p":1.46190,"k":"r"},{"t":"1.46001","i":52.5,"p":1.45730,"k":"r"},{"t":"1.44842","i":50.1,"p":1.45116,"k":"r"},{"t":"1.45565","i":92.7,"p":1.47723,"k":"r"},{"t":"1.45523","i":92.7,"p":1.47263,"k":"r"},{"t":"1.50990","i":91.9,"p":1.51328,"k":"t"},{"t":"1.48980","i":85.6,"p":1.49871,"k":"t"},{"t":"1.51672","i":100.5,"p":1.51405,"k":"g"},{"t":"1.50107","i":99.3,"p":1.49411,"k":"r"}
],
"m1":[{"t":"1.51049","p":1.51049,"k":"m"},{"t":"1.49529","p":1.49529,"k":"m"},{"t":"1.48788","p":1.48788,"k":"r"},{"t":"1.48652","p":1.48652,"k":"g"},{"t":"1.47992","p":1.47992,"k":"m"}],
"m2":[{"t":"1.53337","p":1.53337,"k":"m"},{"t":"1.51210","p":1.51210,"k":"r"},{"t":"","p":1.48980,"k":"r"},{"t":"1.48872","p":1.48872,"k":"g"},{"t":"1.47839","p":1.47839,"k":"m"},{"t":"1.46537","p":1.46537,"k":"r"},{"t":"1.42292","p":1.42292,"k":"m"}],
"a1":[{"a":"b","x1":59.1,"y1":1.47574,"x2":73.6,"y2":1.47597},{"a":"g","x1":108.3,"y1":1.48679,"x2":112.8,"y2":1.48993}],
"hd1":[{"a":"b","i":75.2,"p":1.47609},{"a":"g","i":113.6,"p":1.49063}],
"isl":[{"t":"ISL < 1.476","i":47.7,"p":1.47568,"i1":36.4,"i2":59.1,"p1":1.47481,"p2":1.47655}]
},
"hconcat":[
{
"width":280,"height":358,
"resolve":{"axis":{"x":"independent","y":"independent"}},
"layer":[
{"data":{"name":"g1"},"mark":{"type":"rule","color":"#36424e","strokeWidth":1},
 "encoding":{"x":{"field":"i","type":"quantitative","scale":{"domain":[-1.65,114.05],"nice":false,"zero":false},"axis":null}}},
{"data":{"name":"b1"},"mark":{"type":"line","interpolate":"monotone","strokeWidth":1},
 "encoding":{"x":{"field":"i","type":"quantitative","scale":{"domain":[-1.65,114.05],"nice":false,"zero":false},"axis":null},
  "y":{"field":"v","type":"quantitative","scale":{"domain":[1.47364,1.51528],"nice":false,"zero":false},"axis":null},
  "detail":{"field":"s"},
  "color":{"condition":{"test":"datum.g=='m'","value":"#a330ac"},"value":"#a81818"}}},
{"data":{"name":"h1"},"mark":{"type":"rule","color":"#8c8c8c","strokeWidth":0.8},
 "encoding":{"x":{"field":"i","type":"quantitative","scale":{"domain":[-1.65,114.05],"nice":false,"zero":false},
   "axis":{"orient":"bottom","title":null,"values":[0,12,24,36,48,60,72,84,96],"labelExpr":"datum.value % 24 == 0 ? '9/' + (21 + datum.value / 24) : '12:00'"}},
  "y":{"field":"l","type":"quantitative","scale":{"domain":[1.47364,1.51528],"nice":false,"zero":false},
   "axis":{"orient":"right","title":null,"format":".4f","values":[1.474,1.476,1.478,1.482,1.484,1.49,1.492,1.494,1.498,1.5,1.502,1.504,1.506,1.508,1.512,1.514]}},
  "y2":{"field":"h"}}},
{"data":{"name":"h1"},"mark":{"type":"bar","width":1.7},
 "encoding":{"x":{"field":"i","type":"quantitative","scale":{"domain":[-1.65,114.05],"nice":false,"zero":false},"axis":null},
  "y":{"field":"o","type":"quantitative","scale":{"domain":[1.47364,1.51528],"nice":false,"zero":false},"axis":null},
  "y2":{"field":"c"},
  "color":{"condition":{"test":"datum.c >= datum.o","value":"#52acae"},"value":"#d8432d"}}},
{"data":{"name":"l1"},"mark":{"type":"rule","x2Offset":20,"yOffset":2.5,"strokeDash":[1,1],"strokeWidth":0.8},
 "encoding":{"x":{"field":"i","type":"quantitative","scale":{"domain":[-1.65,114.05],"nice":false,"zero":false},"axis":null},
  "x2":{"field":"i"},
  "y":{"field":"p","type":"quantitative","scale":{"domain":[1.47364,1.51528],"nice":false,"zero":false},"axis":null},
  "color":{"condition":[{"test":"datum.k=='t'","value":"#2e9d9d"},{"test":"datum.k=='g'","value":"#3ad43a"},{"test":"datum.k=='o'","value":"#f08a24"}],"value":"#e33a2a"}}},
{"data":{"name":"l1"},"mark":{"type":"text","font":"Liberation Sans","fontSize":6,"align":"left","baseline":"alphabetic"},
 "encoding":{"x":{"field":"i","type":"quantitative","scale":{"domain":[-1.65,114.05],"nice":false,"zero":false},"axis":null},
  "y":{"field":"p","type":"quantitative","scale":{"domain":[1.47364,1.51528],"nice":false,"zero":false},"axis":null},
  "text":{"field":"t"},
  "color":{"condition":[{"test":"datum.k=='t'","value":"#2e9d9d"},{"test":"datum.k=='g'","value":"#3ad43a"},{"test":"datum.k=='o'","value":"#f08a24"}],"value":"#e33a2a"}}},
{"data":{"name":"tx1"},"transform":[{"filter":"datum.w=='top'"}],"mark":{"type":"text","font":"Liberation Sans","fontSize":5.45,"align":"left","baseline":"top","color":"#c8c8c8","dx":1,"dy":2},
 "encoding":{"x":{"datum":-1.65,"type":"quantitative","scale":{"domain":[-1.65,114.05],"nice":false,"zero":false},"axis":null},
  "y":{"datum":1.51528,"type":"quantitative","scale":{"domain":[1.47364,1.51528],"nice":false,"zero":false},"axis":null},
  "text":{"field":"t"}}},
{"data":{"name":"tx1"},"transform":[{"filter":"datum.w=='bot'"}],"mark":{"type":"text","font":"Liberation Sans","fontSize":6,"align":"left","baseline":"bottom","color":"#b8b8b8","dx":1,"dy":-2},
 "encoding":{"x":{"datum":-1.65,"type":"quantitative","scale":{"domain":[-1.65,114.05],"nice":false,"zero":false},"axis":null},
  "y":{"datum":1.47364,"type":"quantitative","scale":{"domain":[1.47364,1.51528],"nice":false,"zero":false},"axis":null},
  "text":{"field":"t"}}},
{"data":{"name":"m1"},"mark":{"type":"point","shape":"triangle-left","filled":true,"size":28,"opacity":1},
 "encoding":{"x":{"datum":114.3,"type":"quantitative","scale":{"domain":[-1.65,114.05],"nice":false,"zero":false},"axis":null},
  "y":{"field":"p","type":"quantitative","scale":{"domain":[1.47364,1.51528],"nice":false,"zero":false},"axis":null},
  "color":{"condition":[{"test":"datum.k=='m'","value":"#ff4cff"},{"test":"datum.k=='r'","value":"#ff3a2e"}],"value":"#cfcfcf"}}},
{"data":{"name":"m1"},"mark":{"type":"bar","orient":"horizontal","height":9,"strokeWidth":1},
 "encoding":{"x":{"datum":114.6,"type":"quantitative","scale":{"domain":[-1.65,114.05],"nice":false,"zero":false},"axis":null},
  "x2":{"datum":124.4},
  "y":{"field":"p","type":"quantitative","scale":{"domain":[1.47364,1.51528],"nice":false,"zero":false},"axis":null},
  "fill":{"condition":[{"test":"datum.k=='m'","value":"#ff4cff"},{"test":"datum.k=='r'","value":"#ff3a2e"}],"value":"#000000"},
  "stroke":{"condition":[{"test":"datum.k=='m'","value":"#ff4cff"},{"test":"datum.k=='r'","value":"#ff3a2e"}],"value":"#cfcfcf"}}},
{"data":{"name":"m1"},"mark":{"type":"text","font":"Liberation Sans","fontSize":6.5,"align":"center","baseline":"middle"},
 "encoding":{"x":{"datum":119.5,"type":"quantitative","scale":{"domain":[-1.65,114.05],"nice":false,"zero":false},"axis":null},
  "y":{"field":"p","type":"quantitative","scale":{"domain":[1.47364,1.51528],"nice":false,"zero":false},"axis":null},
  "text":{"field":"t"},
  "color":{"condition":{"test":"datum.k=='g'","value":"#d8d8d8"},"value":"#ffffff"}}},
{"data":{"name":"a1"},"mark":{"type":"rule","strokeCap":"round"},
 "encoding":{"x":{"field":"x1","type":"quantitative","scale":{"domain":[-1.65,114.05],"nice":false,"zero":false},"axis":null},
  "y":{"field":"y1","type":"quantitative","scale":{"domain":[1.47364,1.51528],"nice":false,"zero":false},"axis":null},
  "x2":{"field":"x2"},"y2":{"field":"y2"},
  "color":{"condition":{"test":"datum.a=='g'","value":"#2ee62e"},"value":"#1f5be8"},
  "strokeWidth":{"condition":{"test":"datum.a=='g'","value":4.5},"value":3}}},
{"data":{"name":"hd1"},"transform":[{"filter":"datum.a=='b'"}],"mark":{"type":"point","shape":"triangle-right","filled":true,"size":90,"color":"#1f5be8","opacity":1},
 "encoding":{"x":{"field":"i","type":"quantitative","scale":{"domain":[-1.65,114.05],"nice":false,"zero":false},"axis":null},
  "y":{"field":"p","type":"quantitative","scale":{"domain":[1.47364,1.51528],"nice":false,"zero":false},"axis":null}}},
{"data":{"name":"hd1"},"transform":[{"filter":"datum.a=='g'"}],"mark":{"type":"point","shape":"triangle-up","angle":21,"filled":true,"size":130,"color":"#2ee62e","opacity":1},
 "encoding":{"x":{"field":"i","type":"quantitative","scale":{"domain":[-1.65,114.05],"nice":false,"zero":false},"axis":null},
  "y":{"field":"p","type":"quantitative","scale":{"domain":[1.47364,1.51528],"nice":false,"zero":false},"axis":null}}},
{"data":{"name":"isl"},"mark":{"type":"rect","fill":"#1a48d8","stroke":"#ffffff","strokeWidth":2,"cornerRadius":5},
 "encoding":{"x":{"field":"i1","type":"quantitative","scale":{"domain":[-1.65,114.05],"nice":false,"zero":false},"axis":null},
  "x2":{"field":"i2"},
  "y":{"field":"p1","type":"quantitative","scale":{"domain":[1.47364,1.51528],"nice":false,"zero":false},"axis":null},
  "y2":{"field":"p2"}}},
{"data":{"name":"isl"},"mark":{"type":"text","font":"Liberation Sans","fontSize":9.5,"align":"center","baseline":"middle","color":"#ffffff"},
 "encoding":{"x":{"field":"i","type":"quantitative","scale":{"domain":[-1.65,114.05],"nice":false,"zero":false},"axis":null},
  "y":{"field":"p","type":"quantitative","scale":{"domain":[1.47364,1.51528],"nice":false,"zero":false},"axis":null},
  "text":{"field":"t"}}}
]
},
{
"width":280,"height":358,
"resolve":{"axis":{"x":"independent","y":"independent"}},
"layer":[
{"data":{"name":"tx2"},"transform":[{"filter":"datum.w=='top'"}],"mark":{"type":"rule","color":"#d0d0d0","strokeWidth":1.5},
 "encoding":{"x":{"datum":-2.5,"type":"quantitative","scale":{"domain":[-1.65,114.2],"nice":false,"zero":false},"axis":null}}},
{"data":{"name":"b2"},"mark":{"type":"line","interpolate":"monotone","strokeWidth":1},
 "encoding":{"x":{"field":"i","type":"quantitative","scale":{"domain":[-1.65,114.2],"nice":false,"zero":false},"axis":null},
  "y":{"field":"v","type":"quantitative","scale":{"domain":[1.31005,1.5846],"nice":false,"zero":false},"axis":null},
  "detail":{"field":"s"},
  "color":{"condition":{"test":"datum.g=='m'","value":"#a330ac"},"value":"#a81818"}}},
{"data":{"name":"d1"},"mark":{"type":"rule","color":"#8a8a8a","strokeWidth":0.7},
 "encoding":{"x":{"field":"i","type":"quantitative","scale":{"domain":[-1.65,114.2],"nice":false,"zero":false},"axis":null},
  "y":{"datum":1.31005,"type":"quantitative","scale":{"domain":[1.31005,1.5846],"nice":false,"zero":false},"axis":null},
  "y2":{"datum":1.3081}}},
{"data":{"name":"d1"},"mark":{"type":"rule","color":"#8c8c8c","strokeWidth":0.8},
 "encoding":{"x":{"field":"i","type":"quantitative","scale":{"domain":[-1.65,114.2],"nice":false,"zero":false},
   "axis":{"orient":"bottom","title":null,"values":[0,12,24,36,48,60,72,84,96],"labelExpr":"['5/8','5/26','6/11','6/29','7/15','7/31','8/18','9/3','9/21'][round(datum.value / 12)]"}},
  "y":{"field":"l","type":"quantitative","scale":{"domain":[1.31005,1.5846],"nice":false,"zero":false},
   "axis":{"orient":"right","title":null,"format":".4f","values":[1.32,1.34,1.36,1.38,1.4,1.44,1.46,1.5,1.52,1.54,1.56,1.58]}},
  "y2":{"field":"h"}}},
{"data":{"name":"d1"},"mark":{"type":"bar","width":1.7},
 "encoding":{"x":{"field":"i","type":"quantitative","scale":{"domain":[-1.65,114.2],"nice":false,"zero":false},"axis":null},
  "y":{"field":"o","type":"quantitative","scale":{"domain":[1.31005,1.5846],"nice":false,"zero":false},"axis":null},
  "y2":{"field":"c"},
  "color":{"condition":{"test":"datum.c >= datum.o","value":"#52acae"},"value":"#d8432d"}}},
{"data":{"name":"l2"},"mark":{"type":"rule","x2Offset":20,"yOffset":2.5,"strokeDash":[1,1],"strokeWidth":0.8},
 "encoding":{"x":{"field":"i","type":"quantitative","scale":{"domain":[-1.65,114.2],"nice":false,"zero":false},"axis":null},
  "x2":{"field":"i"},
  "y":{"field":"p","type":"quantitative","scale":{"domain":[1.31005,1.5846],"nice":false,"zero":false},"axis":null},
  "color":{"condition":[{"test":"datum.k=='t'","value":"#2e9d9d"},{"test":"datum.k=='g'","value":"#3ad43a"},{"test":"datum.k=='o'","value":"#f08a24"}],"value":"#e33a2a"}}},
{"data":{"name":"l2"},"mark":{"type":"text","font":"Liberation Sans","fontSize":6,"align":"left","baseline":"alphabetic"},
 "encoding":{"x":{"field":"i","type":"quantitative","scale":{"domain":[-1.65,114.2],"nice":false,"zero":false},"axis":null},
  "y":{"field":"p","type":"quantitative","scale":{"domain":[1.31005,1.5846],"nice":false,"zero":false},"axis":null},
  "text":{"field":"t"},
  "color":{"condition":[{"test":"datum.k=='t'","value":"#2e9d9d"},{"test":"datum.k=='g'","value":"#3ad43a"},{"test":"datum.k=='o'","value":"#f08a24"}],"value":"#e33a2a"}}},
{"data":{"name":"tx2"},"transform":[{"filter":"datum.w=='top'"}],"mark":{"type":"text","font":"Liberation Sans","fontSize":5.2,"align":"left","baseline":"top","color":"#c8c8c8","dx":1,"dy":2},
 "encoding":{"x":{"datum":-1.65,"type":"quantitative","scale":{"domain":[-1.65,114.2],"nice":false,"zero":false},"axis":null},
  "y":{"datum":1.5846,"type":"quantitative","scale":{"domain":[1.31005,1.5846],"nice":false,"zero":false},"axis":null},
  "text":{"field":"t"}}},
{"data":{"name":"tx2"},"transform":[{"filter":"datum.w=='bot'"}],"mark":{"type":"text","font":"Liberation Sans","fontSize":6,"align":"left","baseline":"bottom","color":"#b8b8b8","dx":1,"dy":-2},
 "encoding":{"x":{"datum":-1.65,"type":"quantitative","scale":{"domain":[-1.65,114.2],"nice":false,"zero":false},"axis":null},
  "y":{"datum":1.31005,"type":"quantitative","scale":{"domain":[1.31005,1.5846],"nice":false,"zero":false},"axis":null},
  "text":{"field":"t"}}},
{"data":{"name":"m2"},"mark":{"type":"point","shape":"triangle-left","filled":true,"size":28,"opacity":1},
 "encoding":{"x":{"datum":114.3,"type":"quantitative","scale":{"domain":[-1.65,114.2],"nice":false,"zero":false},"axis":null},
  "y":{"field":"p","type":"quantitative","scale":{"domain":[1.31005,1.5846],"nice":false,"zero":false},"axis":null},
  "color":{"condition":[{"test":"datum.k=='m'","value":"#ff4cff"},{"test":"datum.k=='r'","value":"#ff3a2e"}],"value":"#cfcfcf"}}},
{"data":{"name":"m2"},"mark":{"type":"bar","orient":"horizontal","height":9,"strokeWidth":1},
 "encoding":{"x":{"datum":114.6,"type":"quantitative","scale":{"domain":[-1.65,114.2],"nice":false,"zero":false},"axis":null},
  "x2":{"datum":124.5},
  "y":{"field":"p","type":"quantitative","scale":{"domain":[1.31005,1.5846],"nice":false,"zero":false},"axis":null},
  "fill":{"condition":[{"test":"datum.k=='m'","value":"#ff4cff"},{"test":"datum.k=='r'","value":"#ff3a2e"}],"value":"#000000"},
  "stroke":{"condition":[{"test":"datum.k=='m'","value":"#ff4cff"},{"test":"datum.k=='r'","value":"#ff3a2e"}],"value":"#cfcfcf"}}},
{"data":{"name":"m2"},"transform":[{"filter":"datum.t != ''"}],"mark":{"type":"text","font":"Liberation Sans","fontSize":6.5,"align":"center","baseline":"middle"},
 "encoding":{"x":{"datum":119.6,"type":"quantitative","scale":{"domain":[-1.65,114.2],"nice":false,"zero":false},"axis":null},
  "y":{"field":"p","type":"quantitative","scale":{"domain":[1.31005,1.5846],"nice":false,"zero":false},"axis":null},
  "text":{"field":"t"},
  "color":{"condition":{"test":"datum.k=='g'","value":"#d8d8d8"},"value":"#ffffff"}}}
]
}
]
}
